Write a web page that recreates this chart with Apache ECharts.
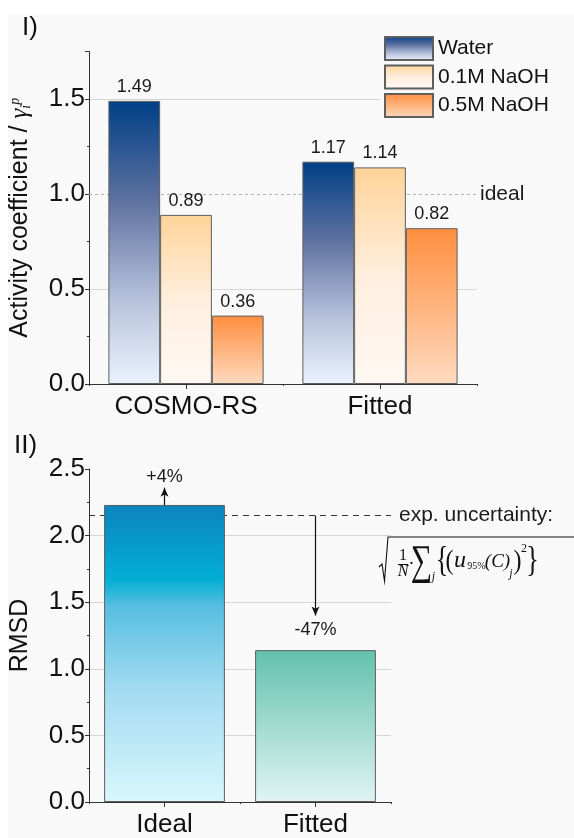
<!DOCTYPE html>
<html>
<head>
<meta charset="utf-8">
<script src="https://cdn.jsdelivr.net/npm/echarts@6/dist/echarts.min.js"></script>
<style>
html,body{margin:0;padding:0;background:#ffffff;}
#bg{position:absolute;left:8px;top:14px;width:566px;height:824px;background:#f9f9f9;}
#chart{position:absolute;left:0;top:0;width:574px;height:838px;}
</style>
</head>
<body>
<div id="bg"></div>
<div id="chart"></div>
<script>
// ---- data ----
const categories1 = ['COSMO-RS', 'Fitted'];
const seriesNames1 = ['Water', '0.1M NaOH', '0.5M NaOH'];
const water = [1.49, 1.17];
const naoh01 = [0.89, 1.14];
const naoh05 = [0.36, 0.82];
const idealLevel = 1.0;
const yMax1 = 1.75;

const categories2 = ['Ideal', 'Fitted'];
const rmsd = [2.23, 1.14];
const expUncertainty = 2.15;
const arrowIdeal = [2.17, 2.36];
const arrowFitted = [2.15, 1.40];
const arrowLabels = ['+4%', '-47%'];
const yMax2 = 2.5;

// ---- styles ----
const sans = '"Liberation Sans", Arial, sans-serif';
const serif = '"Liberation Serif", "DejaVu Serif", serif';
const axisColor = '#333333';
const gridColor = '#d6d6d6';
const borderColor = '#5e5e5e';

function grad(stops) {
  return {type: 'linear', x: 0, y: 0, x2: 0, y2: 1,
    colorStops: stops.map(s => ({offset: s[0], color: s[1]}))};
}
const colWater = grad([[0, '#003f87'], [0.35, '#5d71a0'], [0.7, '#b6c2db'], [1, '#ebf2fe']]);
const col01 = grad([[0, '#ffd499'], [0.5, '#ffeedd'], [1, '#fff8f4']]);
const col05 = grad([[0, '#ff8e3e'], [1, '#ffdabf']]);
const colIdeal = grad([[0, '#0b84bd'], [0.25, '#03aed5'], [0.34, '#57bee0'], [0.62, '#a2dbf0'], [1, '#d9f7fd']]);
const colFitted = grad([[0, '#62c1ad'], [1, '#e1f4f2']]);

function barSeries(name, data, color) {
  return {
    name: name, type: 'bar', data: data, xAxisIndex: 0, yAxisIndex: 0,
    z: 6, barGap: '0%', barCategoryGap: '20%',
    itemStyle: {color: color, borderColor: borderColor, borderWidth: 1},
    label: {show: true, position: 'top', distance: 5, fontFamily: sans, fontSize: 18, color: '#1a1a1a',
      formatter: p => p.value.toFixed(2)},
    animation: false
  };
}

const s1 = barSeries(seriesNames1[0], water, colWater);
s1.markLine = {
  silent: true, animation: false, symbol: ['none', 'none'],
  lineStyle: {type: [3, 3], color: '#b0b0b0', width: 1},
  label: {show: true, position: 'end', distance: 3, formatter: 'ideal', fontFamily: sans, fontSize: 21, color: '#1a1a1a'},
  data: [{yAxis: idealLevel}]
};
const s2 = barSeries(seriesNames1[1], naoh01, col01);
const s3 = barSeries(seriesNames1[2], naoh05, col05);

const arrowLine = {color: '#111', width: 1.2, type: 'solid'};
const s4 = {
  name: 'RMSD', type: 'bar', xAxisIndex: 2, yAxisIndex: 1, z: 6,
  barCategoryGap: '20%',
  data: [
    {value: rmsd[0], itemStyle: {color: colIdeal}},
    {value: rmsd[1], itemStyle: {color: colFitted}}
  ],
  itemStyle: {borderColor: borderColor, borderWidth: 1},
  animation: false,
  markLine: {
    silent: true, animation: false, symbol: ['none', 'none'],
    data: [
      {yAxis: expUncertainty,
       lineStyle: {type: [6, 5], color: '#333', width: 1},
       label: {show: true, position: 'end', distance: 8, formatter: 'exp. uncertainty:', fontFamily: sans, fontSize: 21, color: '#1a1a1a'}},
      [
        {xAxis: categories2[0], yAxis: arrowIdeal[0], symbol: 'none', lineStyle: arrowLine,
         label: {show: true, position: 'end', distance: 2, formatter: arrowLabels[0], fontFamily: sans, fontSize: 18, color: '#1a1a1a'}},
        {xAxis: categories2[0], yAxis: arrowIdeal[1], symbol: 'arrow', symbolSize: [6, 9], lineStyle: arrowLine,
         label: {show: true, position: 'end', distance: 2, formatter: arrowLabels[0], fontFamily: sans, fontSize: 18, color: '#1a1a1a'}}
      ],
      [
        {xAxis: categories2[1], yAxis: arrowFitted[0], symbol: 'none', lineStyle: arrowLine,
         label: {show: true, position: 'end', distance: 6, formatter: arrowLabels[1], fontFamily: sans, fontSize: 18, color: '#1a1a1a'}},
        {xAxis: categories2[1], yAxis: arrowFitted[1], symbol: 'arrow', symbolSize: [6, 9], lineStyle: arrowLine,
         label: {show: true, position: 'end', distance: 6, formatter: arrowLabels[1], fontFamily: sans, fontSize: 18, color: '#1a1a1a'}}
      ]
    ]
  }
};

function catAxis(gridIndex, data, main) {
  return {
    type: 'category', gridIndex: gridIndex, data: data, position: 'bottom',
    axisLine: {show: main, lineStyle: {color: axisColor, width: 1}},
    axisTick: main ? {show: true, alignWithLabel: true, length: 5, lineStyle: {color: axisColor}}
                   : {show: true, length: 2, lineStyle: {color: axisColor}},
    axisLabel: {show: main, fontFamily: sans, fontSize: 26, color: '#111', margin: 10},
    splitLine: {show: false}
  };
}

function valAxis(gridIndex, max, name, nameGap, splitColors) {
  return {
    type: 'value', gridIndex: gridIndex, min: 0, max: max, interval: 0.5,
    axisLine: {show: true, lineStyle: {color: axisColor, width: 1}},
    axisTick: {show: true, length: 4, lineStyle: {color: axisColor}},
    minorTick: {show: true, splitNumber: 2, length: 2, lineStyle: {color: axisColor}},
    axisLabel: {fontFamily: sans, fontSize: 26, color: '#111', margin: 4, showMaxLabel: max === 2.5,
      formatter: v => v.toFixed(1)},
    splitLine: {show: true, showMinLine: false, showMaxLine: false, lineStyle: {color: splitColors, width: 1}},
    name: name, nameLocation: 'middle', nameGap: nameGap,
    nameTextStyle: {fontFamily: sans, fontSize: 25, color: '#111',
      rich: {
        t: {fontFamily: sans, fontSize: 25, color: '#111'},
        g: {fontFamily: serif, fontStyle: 'italic', fontSize: 25, color: '#111'},
        s: {fontFamily: serif, fontStyle: 'italic', fontSize: 14, color: '#111', verticalAlign: 'bottom'},
        p: {fontFamily: serif, fontStyle: 'italic', fontSize: 14, color: '#111', verticalAlign: 'top'}
      }}
  };
}

// formula glyphs: [text, x, y, fontSize, style, scaleY]
const formulaItems = [
  ['1', 403, 555.5, 16, 'normal', 1],
  ['N', 403, 572, 16, 'italic', 1],
  ['\u00B7', 411.5, 564, 18, 'normal', 1],
  ['\u2211', 421.5, 563, 30, 'normal', 1.4],
  ['j', 433.5, 577, 12, 'italic', 1],
  ['{', 442, 562, 26, 'normal', 1.35],
  ['(', 449.5, 562, 24, 'normal', 1.15],
  ['u', 460, 561, 24, 'italic', 1],
  ['95%', 476.5, 566, 10, 'normal', 1],
  ['(C)', 497.5, 562, 19, 'italic', 1],
  ['j', 511, 574, 12, 'italic', 1],
  [')', 517.5, 562, 24, 'normal', 1.15],
  ['2', 524, 549, 12, 'normal', 1],
  ['}', 532.5, 562, 26, 'normal', 1.35]
];

const graphics = [
  {type: 'text', x: 22, y: 28, style: {text: 'I)', font: '26px ' + sans, fill: '#111', verticalAlign: 'middle'}},
  {type: 'text', x: 14, y: 446, style: {text: 'II)', font: '26px ' + sans, fill: '#111', verticalAlign: 'middle'}},
  {type: 'polyline', shape: {points: [[379, 567], [382, 564], [384.5, 581], [388, 537], [574, 537]]},
   style: {stroke: '#111', lineWidth: 1.1, fill: null}},
  {type: 'line', shape: {x1: 398, y1: 564.5, x2: 408, y2: 564.5}, style: {stroke: '#111', lineWidth: 1}}
];
formulaItems.forEach(f => {
  graphics.push({type: 'text', x: f[1], y: f[2], scaleY: f[5],
    style: {text: f[0], fontFamily: serif, fontSize: f[3], fontStyle: f[4], fill: '#111',
      align: 'center', verticalAlign: 'middle'}});
});

const option = {
  backgroundColor: 'transparent',
  animation: false,
  grid: [
    {left: 89, top: 51.5, width: 388, height: 332.5, containLabel: false},
    {left: 89, top: 469, width: 302, height: 336, containLabel: false}
  ],
  legend: {
    data: seriesNames1, orient: 'vertical', left: 380, top: 34,
    itemWidth: 48, itemHeight: 23, itemGap: 3.5, padding: [2, 4, 2, 4],
    backgroundColor: '#f9f9f9', icon: 'rect',
    textStyle: {fontFamily: sans, fontSize: 21, color: '#111'},
    selectedMode: false
  },
  xAxis: [
    catAxis(0, categories1, true),
    catAxis(0, categories1, false),
    catAxis(1, categories2, true),
    catAxis(1, categories2, false)
  ],
  yAxis: [
    valAxis(0, yMax1, '{t|Activity coefficient / }{g|\u03B3}{s|i}{p|p}', 56, [gridColor, 'rgba(0,0,0,0)', gridColor]),
    valAxis(1, yMax2, 'RMSD', 56, [gridColor])
  ],
  series: [s1, s2, s3, s4],
  graphic: graphics
};

const chart = echarts.init(document.getElementById('chart'), null, {renderer: 'canvas'});
chart.setOption(option);
</script>
</body>
</html>
